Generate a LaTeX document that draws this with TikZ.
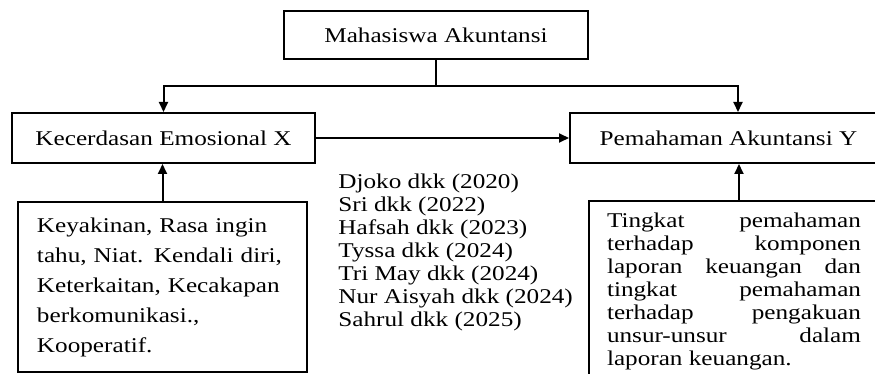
\documentclass[tikz,border=0pt]{standalone}
\usepackage{fontspec}
\setmainfont{Liberation Serif}[FakeStretch=1.2]
\usetikzlibrary{arrows.meta,calc}

\begin{document}
\begin{tikzpicture}[x=0.5pt,y=-0.5pt]
    \tikzstyle{edge}  = [line width=1pt,draw=black]
    \tikzstyle{dedge} = [line width=1pt,->,>={Triangle[length=5pt,width=4.5pt]},draw=black]
    \tikzstyle{box}=[
      draw=black,
      line width=1pt,
      rectangle,
      anchor=center,
      font=\fontsize{10.5pt}{15pt}\selectfont,
    ]
    \tikzstyle{varbox}=[
      box,
      minimum height=25pt,
    ]
    \tikzstyle{indbox}=[
      box,
      font=\fontsize{10.5pt}{11.5pt}\selectfont,
      align=justify,
    ]

    \useasboundingbox (0,0) rectangle (875,374);

    % top
    {
      \node[box, minimum width=152pt, minimum height=24pt] (mhs) at (436,35) {Mahasiswa Akuntansi};
    }

    % variables
    {
      \node[varbox, minimum width=151.5pt] (emo) at (163.5,138) {Kecerdasan Emosional X};
      \node[varbox, minimum width=158.5pt] (paham) at (728.5,138) {Pemahaman Akuntansi Y};
    }

    % indicators
    {
      \node[box, align=left, text width=125.5pt, inner xsep=9.5pt, minimum height=85pt] (indX) at (162.5,287)
        {Keyakinan, Rasa ingin\\ tahu, Niat. Kendali diri,\\ Keterkaitan, Kecakapan\\ berkomunikasi.,\\ Kooperatif.};
      \node[indbox, anchor=north west, text width=127pt, inner xsep=9pt, inner ysep=6pt] (indY) at (588,200)
        {\hyphenpenalty=10000 Tingkat pemahaman\linebreak terhadap komponen\linebreak laporan keuangan dan\linebreak tingkat pemahaman\linebreak terhadap pengakuan\linebreak unsur-unsur dalam\linebreak laporan keuangan.};
    }

    % references
    {
      \node[anchor=north west, inner sep=0pt, align=left, font=\fontsize{10.5pt}{11.5pt}\selectfont] (refs) at (338,174)
        {Djoko dkk (2020)\\ Sri dkk (2022)\\ Hafsah dkk (2023)\\ Tyssa dkk (2024)\\ Tri May dkk (2024)\\ Nur Aisyah dkk (2024)\\ Sahrul dkk (2025)};
    }

    % arrows
    {
      \draw[edge] (mhs.south) -- ++(0,26) coordinate (split);
      \draw[dedge] (split) -| (emo.north);
      \draw[dedge] (split) -| ([xshift=4.75pt]paham.north);
      \draw[dedge] (emo.east) -- (paham.west);
      \draw[dedge] (indX.north) -- (indX.north |- emo.south);
      \draw[dedge] ([xshift=2.5pt]indY.north) -- ([xshift=2.5pt]indY.north |- paham.south);
    }
  \end{tikzpicture}
\end{document}
